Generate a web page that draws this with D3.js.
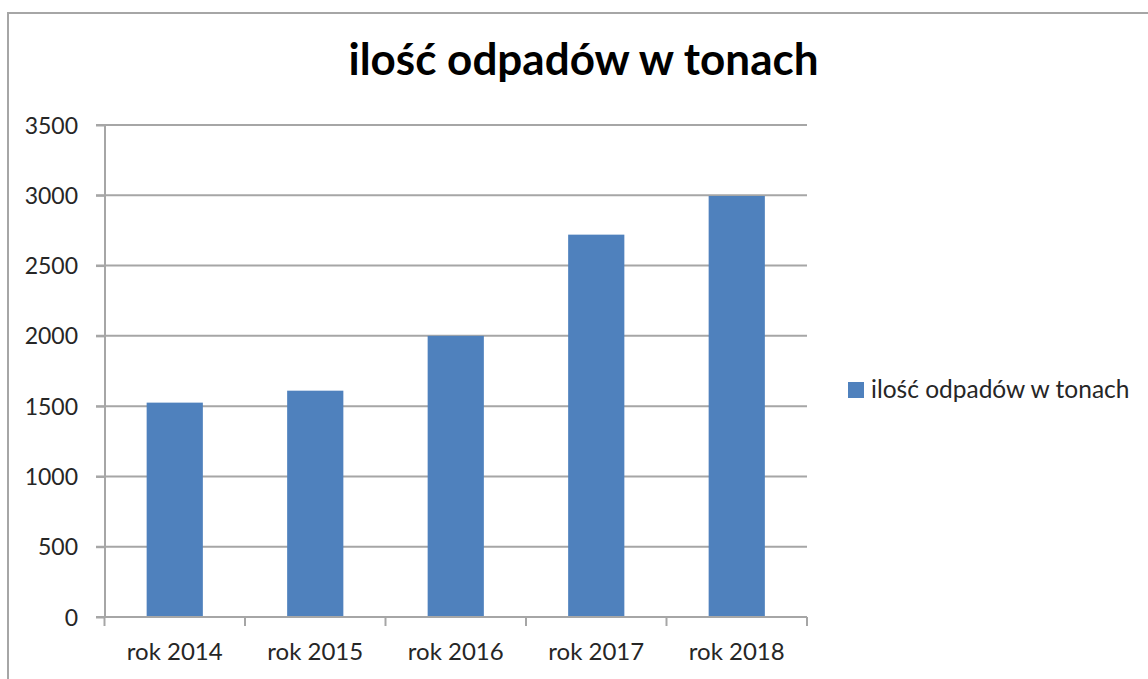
<!DOCTYPE html>
<meta charset="utf-8">
<title>ilość odpadów w tonach</title>
<style>
  body {
    margin: 0;
    padding: 0;
    overflow: hidden;
    background-color: #fff;
  }

  svg {
    display: block;
    font-family: Lato, "Open Sans", sans-serif;
  }

  .frame {
    fill: none;
    stroke: #a6a6a6;
    stroke-width: 2;
  }

  .grid line {
    stroke: #a6a6a6;
    stroke-width: 2;
  }

  .axis path,
  .axis line {
    stroke: #a6a6a6;
    stroke-width: 2;
  }

  .axis text {
    fill: #262626;
    font-family: Lato, "Open Sans", sans-serif;
    font-size: 24px;
  }

  .axis.y text {
    font-size: 23px;
  }

  .title {
    font-weight: bold;
    font-size: 44px;
    fill: #000;
  }

  .legend text {
    font-size: 24.5px;
    fill: #262626;
  }
</style>

<body>
  <script src="https://cdn.jsdelivr.net/npm/d3@7"></script>
  <script>
    // data
    var categories = ["rok 2014", "rok 2015", "rok 2016", "rok 2017", "rok 2018"];
    var values = [1525, 1610, 2000, 2720, 2995];
    var yTicks = [0, 500, 1000, 1500, 2000, 2500, 3000, 3500];
    var seriesName = "ilość odpadów w tonach";
    var title = "ilość odpadów w tonach";

    var width = 1148,
      height = 679;

    var plot = { left: 104.5, right: 807, top: 125, bottom: 617 };

    var svg = d3.select("body").append("svg")
      .attr("width", width)
      .attr("height", height);

    // outer chart frame (runs off the right and bottom edge)
    svg.append("rect")
      .attr("class", "frame")
      .attr("x", 8)
      .attr("y", 13)
      .attr("width", 1200)
      .attr("height", 700);

    var x = d3.scaleBand()
      .domain(categories)
      .range([plot.left, plot.right])
      .paddingInner(0.6)
      .paddingOuter(0.3);

    var y = d3.scaleLinear()
      .domain([0, 3500])
      .range([plot.bottom, plot.top]);

    // horizontal gridlines
    svg.append("g").attr("class", "grid")
      .selectAll("line").data(yTicks.filter(d => d > 0))
      .enter().append("line")
      .attr("x1", plot.left - 8.5)
      .attr("x2", plot.right)
      .attr("y1", d => y(d))
      .attr("y2", d => y(d));

    // bars
    svg.append("g").attr("class", "bars")
      .selectAll("rect").data(values)
      .enter().append("rect")
      .attr("x", (d, i) => x(categories[i]))
      .attr("width", x.bandwidth())
      .attr("y", d => y(d))
      .attr("height", d => y(0) - y(d))
      .attr("fill", "#4f81bd");

    // y axis
    var yAxis = svg.append("g").attr("class", "axis y")
      .attr("transform", `translate(${plot.left},0)`)
      .call(d3.axisLeft(y).tickValues(yTicks).tickFormat(d3.format("d"))
        .tickSize(8.5).tickPadding(18).tickSizeOuter(0));
    yAxis.attr("font-family", null).attr("font-size", null);
    yAxis.selectAll("text").attr("dy", "0.35em");

    // x axis: ticks on category boundaries, labels in the middle
    var xAxis = svg.append("g").attr("class", "axis x")
      .attr("transform", `translate(0,${plot.bottom})`);
    xAxis.append("line")
      .attr("x1", plot.left - 8.5)
      .attr("x2", plot.right)
      .attr("y1", 0)
      .attr("y2", 0);
    var step = (plot.right - plot.left) / categories.length;
    xAxis.selectAll("line.tick").data(d3.range(categories.length + 1))
      .enter().append("line")
      .attr("class", "tick")
      .attr("x1", i => plot.left + i * step)
      .attr("x2", i => plot.left + i * step)
      .attr("y1", 0)
      .attr("y2", 9);
    xAxis.selectAll("text").data(categories)
      .enter().append("text")
      .attr("x", d => x(d) + x.bandwidth() / 2)
      .attr("y", 43)
      .attr("text-anchor", "middle")
      .text(d => d);

    // title
    svg.append("text")
      .attr("class", "title")
      .attr("x", 583.5)
      .attr("y", 75)
      .attr("text-anchor", "middle")
      .text(title);

    // legend
    var legend = svg.append("g").attr("class", "legend");
    legend.append("rect")
      .attr("x", 848)
      .attr("y", 382)
      .attr("width", 16)
      .attr("height", 16)
      .attr("fill", "#4f81bd");
    legend.append("text")
      .attr("x", 871)
      .attr("y", 398)
      .text(seriesName);
  </script>
</body>
